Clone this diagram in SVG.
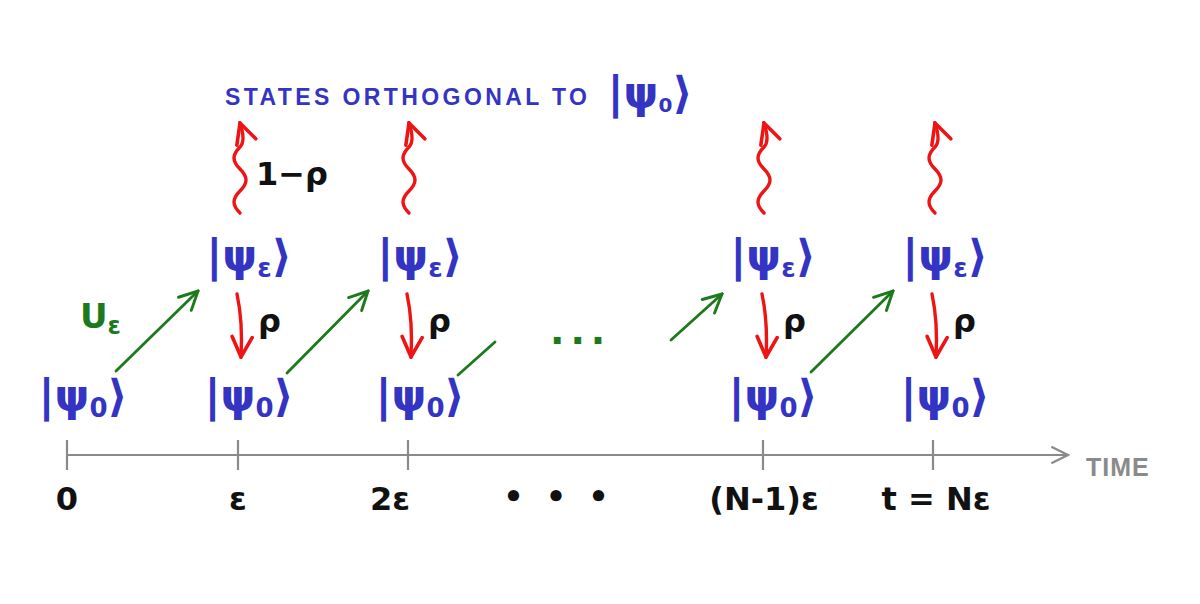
<svg xmlns="http://www.w3.org/2000/svg" width="1200" height="604" viewBox="0 0 1200 604">
<style>
.ket{font-family:"DejaVu Sans",sans-serif;font-size:44px;font-weight:bold;fill:#3434c4;text-anchor:middle}
.lbl{font-family:"DejaVu Sans",sans-serif;font-size:32px;font-weight:bold;fill:#111;text-anchor:middle}
.rho{font-family:"DejaVu Sans",sans-serif;font-size:32px;font-weight:bold;fill:#111}
.green{stroke:#1c7a1c;stroke-width:2.8;fill:none;stroke-linecap:round}
.red{stroke:#ee1414;stroke-width:3.4;fill:none;stroke-linecap:round}
.axis{stroke:#8a8a8a;stroke-width:2.2;fill:none}
</style>
<defs>
<marker id="ag" viewBox="0 0 12 12" refX="11" refY="6" markerWidth="22" markerHeight="22" markerUnits="userSpaceOnUse" orient="auto"><path d="M1,1 L11,6 L1,11" fill="none" stroke="#1c7a1c" stroke-width="1.6" stroke-linecap="round"/></marker>
<marker id="ar" viewBox="0 0 12 12" refX="11" refY="6" markerWidth="24" markerHeight="24" markerUnits="userSpaceOnUse" orient="auto"><path d="M1,1 L11,6 L1,11" fill="none" stroke="#ee1414" stroke-width="1.8" stroke-linecap="round"/></marker>
<marker id="ax" viewBox="0 0 12 12" refX="11" refY="6" markerWidth="20" markerHeight="20" markerUnits="userSpaceOnUse" orient="auto"><path d="M1,1 L11,6 L1,11" fill="none" stroke="#8a8a8a" stroke-width="1.3"/></marker>
<path id="wave" d="M0,0 c-8,-8 -8,-14 0,-22 c8,-8 8,-14 0,-22 c-8,-8 -8,-14 0,-22 c4,-4 4,-12 0,-24"/>
</defs>
<rect width="1200" height="604" fill="#fff"/>

<g id="title">
<text x="225" y="105" font-family="Liberation Sans, sans-serif" font-weight="bold" font-size="23" fill="#3434c4" textLength="362" lengthAdjust="spacing">STATES ORTHOGONAL TO</text>
<text x="650" y="108" class="ket" font-size="34">|ψ<tspan font-size="20" dy="4">0</tspan><tspan dy="-4">⟩</tspan></text>
</g>

<g id="axis">
<path class="axis" d="M67,455 H1068" marker-end="url(#ax)"/>
<path class="axis" d="M67,440 V470 M238,440 V470 M408,440 V470 M763,440 V470 M933,440 V470"/>
<text x="1086" y="476" font-family="Liberation Sans, sans-serif" font-weight="bold" font-size="25" fill="#8a8a8a" letter-spacing="1">TIME</text>
</g>

<g id="time-labels">
<text class="lbl" x="67" y="510">0</text>
<text class="lbl" x="238" y="510">ε</text>
<text class="lbl" x="390" y="510">2ε</text>
<text class="lbl" x="567" y="508" letter-spacing="22">•••</text>
<text class="lbl" x="764" y="510">(N-1)ε</text>
<text class="lbl" x="936" y="510">t = Nε</text>
</g>

<g id="psi0-0"><text class="ket" x="83" y="411">|ψ<tspan font-size="26" dy="6">0</tspan><tspan dy="-6">⟩</tspan></text></g>
<g id="psi0-1"><text class="ket" x="249" y="411">|ψ<tspan font-size="26" dy="6">0</tspan><tspan dy="-6">⟩</tspan></text></g>
<g id="psi0-2"><text class="ket" x="420" y="411">|ψ<tspan font-size="26" dy="6">0</tspan><tspan dy="-6">⟩</tspan></text></g>
<g id="psi0-3"><text class="ket" x="773" y="411">|ψ<tspan font-size="26" dy="6">0</tspan><tspan dy="-6">⟩</tspan></text></g>
<g id="psi0-4"><text class="ket" x="945" y="411">|ψ<tspan font-size="26" dy="6">0</tspan><tspan dy="-6">⟩</tspan></text></g>

<g id="psie-1"><text class="ket" x="249" y="271">|ψ<tspan font-size="26" dy="6">ε</tspan><tspan dy="-6">⟩</tspan></text></g>
<g id="psie-2"><text class="ket" x="420" y="271">|ψ<tspan font-size="26" dy="6">ε</tspan><tspan dy="-6">⟩</tspan></text></g>
<g id="psie-3"><text class="ket" x="773" y="271">|ψ<tspan font-size="26" dy="6">ε</tspan><tspan dy="-6">⟩</tspan></text></g>
<g id="psie-4"><text class="ket" x="945" y="271">|ψ<tspan font-size="26" dy="6">ε</tspan><tspan dy="-6">⟩</tspan></text></g>

<g id="connectors">
<path class="green" d="M116,371 L198,291" marker-end="url(#ag)"/>
<path class="green" d="M287,373 L368,291" marker-end="url(#ag)"/>
<path class="green" d="M458,375 L495,342"/>
<path class="green" d="M671,340 L722,294" marker-end="url(#ag)"/>
<path class="green" d="M811,372 L893,291" marker-end="url(#ag)"/>
<path class="red" d="M237,294 Q243,322 241,357" marker-end="url(#ar)"/>
<path class="red" d="M407,294 Q413,322 411,357" marker-end="url(#ar)"/>
<path class="red" d="M762,294 Q768,322 766,357" marker-end="url(#ar)"/>
<path class="red" d="M932,294 Q938,322 936,357" marker-end="url(#ar)"/>
<use href="#wave" x="240" y="213" class="red" marker-end="url(#ar)"/>
<use href="#wave" x="409" y="213" class="red" marker-end="url(#ar)"/>
<use href="#wave" x="764" y="213" class="red" marker-end="url(#ar)"/>
<use href="#wave" x="935" y="213" class="red" marker-end="url(#ar)"/>
</g>

<g id="edge-labels">
<text x="80" y="328" font-family="DejaVu Sans, sans-serif" font-size="34" font-weight="bold" fill="#1c7a1c">U<tspan font-size="24" dy="6">ε</tspan></text>
<text x="550" y="344" font-family="DejaVu Sans, sans-serif" font-size="38" font-weight="bold" fill="#1c7a1c" letter-spacing="6">...</text>
<text class="rho" x="258" y="332">ρ</text>
<text class="rho" x="428" y="332">ρ</text>
<text class="rho" x="783" y="332">ρ</text>
<text class="rho" x="953" y="332">ρ</text>
<text class="rho" x="256" y="185">1−ρ</text>
</g>
</svg>
